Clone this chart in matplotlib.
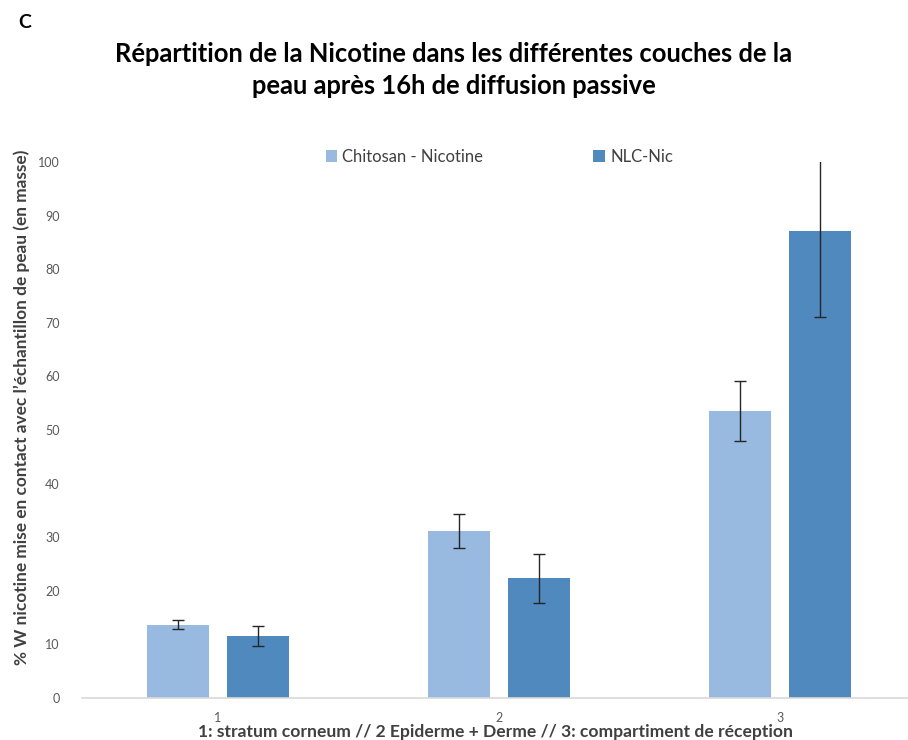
import numpy as np
import matplotlib.pyplot as plt

# Data
categories = ['1', '2', '3']
series = ['Chitosan - Nicotine', 'NLC-Nic']
chitosan = [13.7, 31.2, 53.5]
chitosan_err = [0.8, 3.2, 5.6]
nlc = [11.6, 22.3, 87.2]
nlc_err = [1.85, 4.6, 16.1]

colors = ['#98b9e0', '#4f89bd']
plt.rcParams['font.family'] = ['Lato', 'DejaVu Sans']

fig = plt.figure(figsize=(9.08, 7.4), dpi=100)
ax = fig.add_axes([82 / 908, 1 - 698 / 740, 1 - 82 / 908, (698 - 162) / 740])

x = np.arange(len(categories))
w = 0.22
off = 0.143
ax.bar(x - off, chitosan, w, color=colors[0], label=series[0])
ax.bar(x + off, nlc, w, color=colors[1], label=series[1])
ax.errorbar(x - off, chitosan, yerr=chitosan_err, fmt='none', ecolor='#262626',
            elinewidth=1, capsize=4, capthick=1)
ax.errorbar(x + off, nlc, yerr=nlc_err, fmt='none', ecolor='#262626',
            elinewidth=1, capsize=4, capthick=1)

ax.set_xlim(-0.484, 2.456)
ax.set_ylim(0, 100)
ax.set_yticks(range(0, 101, 10))
ax.set_xticks(x)
ax.set_xticklabels(categories)
for s in ['top', 'right', 'left']:
    ax.spines[s].set_visible(False)
ax.spines['bottom'].set_color('#d9d9d9')
ax.spines['bottom'].set_linewidth(1.2)
ax.tick_params(axis='both', length=0, colors='#595959', labelsize=9)
ax.tick_params(axis='y', pad=16)
ax.tick_params(axis='x', pad=10)

ax.set_ylabel("% W nicotine mise en contact avec l’échantillon de peau (en masse)",
              fontsize=12.4, fontweight='bold', color='#404040')
ax.yaxis.set_label_coords(-0.063, (698 - 407) / (698 - 162))
ax.set_xlabel('1: stratum corneum // 2 Epiderme + Derme // 3: compartiment de réception',
              fontsize=12.6, fontweight='bold', color='#404040', labelpad=0)

fig.text(0.5, 1 - 70 / 740,
         'Répartition de la Nicotine dans les différentes couches de la\npeau après 16h de diffusion passive',
         ha='center', va='center', fontsize=18.4, fontweight='bold', color='black',
         linespacing=1.45)
fig.text(18 / 908, 1 - 22 / 740, 'C', ha='left', va='center', fontsize=14,
         fontweight='bold')

fig.legend(loc='center', bbox_to_anchor=(0.55, 1 - 157 / 740), ncol=2, frameon=False,
           fontsize=12, handlelength=0.7, handleheight=0.7, columnspacing=6.6,
           handletextpad=0.3, labelcolor='#404040')

fig.savefig('out.png', dpi=100)
